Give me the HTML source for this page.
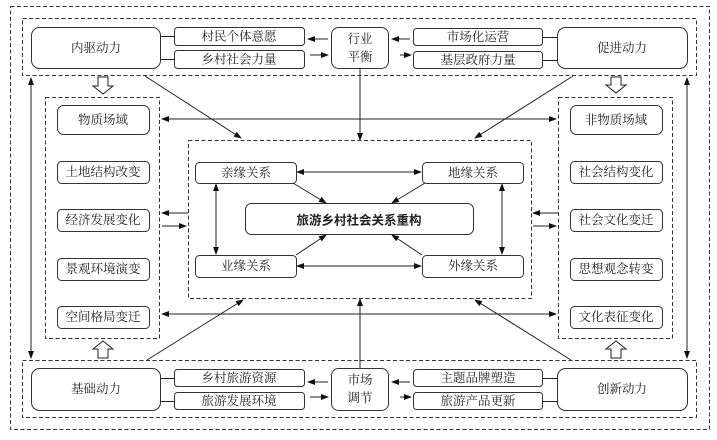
<!DOCTYPE html>
<html><head><meta charset="utf-8"><style>
body{margin:0;background:#fff}
svg text{font-family:"Liberation Serif","Noto Serif CJK SC","Noto Sans CJK SC",serif;font-size:12.5px;fill:#222;text-anchor:middle;dominant-baseline:central}
</style></head><body>
<svg width="717" height="435" viewBox="0 0 717 435" xmlns="http://www.w3.org/2000/svg">
<defs><marker id="a" markerWidth="8" markerHeight="8" refX="7" refY="4" orient="auto-start-reverse" markerUnits="userSpaceOnUse"><path d="M0,1 L8,4 L0,7 Z" fill="#111"/></marker></defs>
<g fill="none" stroke="#333" stroke-width="1" stroke-dasharray="4,2.5">
<rect x="10.5" y="6.5" width="699" height="423"/>
<rect x="22.5" y="18.5" width="674" height="57"/>
<rect x="22.5" y="360.5" width="674" height="57"/>
<rect x="45.5" y="97.5" width="114" height="241"/>
<rect x="558.5" y="97.5" width="114" height="241"/>
<rect x="188.5" y="140.5" width="343" height="158"/>
</g>
<g fill="#fff" stroke="#333" stroke-width="1">
<rect x="31.5" y="27.5" width="129" height="41" rx="8"/>
<rect x="174.5" y="27.5" width="130" height="18" rx="3"/>
<rect x="174.5" y="50.5" width="130" height="18" rx="3"/>
<rect x="331.5" y="27.5" width="57" height="41" rx="7"/>
<rect x="413.5" y="28.5" width="129" height="17" rx="3"/>
<rect x="413.5" y="51.5" width="129" height="17" rx="3"/>
<rect x="557.5" y="27.5" width="130" height="41" rx="8"/>
<rect x="31.5" y="368.5" width="129" height="42" rx="8"/>
<rect x="174.5" y="369.5" width="130" height="17" rx="3"/>
<rect x="174.5" y="392.5" width="130" height="17" rx="3"/>
<rect x="331.5" y="368.5" width="57" height="42" rx="7"/>
<rect x="413.5" y="369.5" width="129" height="17" rx="3"/>
<rect x="413.5" y="392.5" width="129" height="17" rx="3"/>
<rect x="557.5" y="368.5" width="130" height="42" rx="8"/>
<rect x="57.5" y="105.5" width="92" height="29" rx="6"/>
<rect x="57.5" y="161.5" width="92" height="22" rx="4"/>
<rect x="57.5" y="209.5" width="92" height="22" rx="4"/>
<rect x="57.5" y="258.5" width="92" height="22" rx="4"/>
<rect x="57.5" y="306.5" width="92" height="22" rx="4"/>
<rect x="570.5" y="105.5" width="92" height="29" rx="6"/>
<rect x="570.5" y="161.5" width="92" height="22" rx="4"/>
<rect x="570.5" y="209.5" width="92" height="22" rx="4"/>
<rect x="570.5" y="258.5" width="92" height="22" rx="4"/>
<rect x="570.5" y="306.5" width="92" height="22" rx="4"/>
<rect x="195.5" y="162.5" width="101" height="21" rx="4"/>
<rect x="422.5" y="162.5" width="101" height="21" rx="4"/>
<rect x="195.5" y="255.5" width="101" height="22" rx="4"/>
<rect x="422.5" y="255.5" width="101" height="22" rx="4"/>
<rect x="245.5" y="203.5" width="228" height="31" rx="6"/>
</g>
<g stroke="#222" stroke-width="1" fill="none">
<path d="M160.5 36.5H174.5M160.5 59.5H174.5M542.5 37.5H557.5M542.5 60.5H557.5M160.5 378.5H174.5M160.5 401.5H174.5M542.5 378.5H557.5M542.5 401.5H557.5"/>
<g marker-end="url(#a)">
<line x1="328" y1="39" x2="308" y2="39"/><line x1="310" y1="55" x2="328" y2="55"/>
<line x1="410" y1="39" x2="392" y2="39"/><line x1="400" y1="55" x2="411" y2="55"/>
<line x1="328" y1="382" x2="308" y2="382"/><line x1="310" y1="397" x2="328" y2="397"/>
<line x1="410" y1="382" x2="392" y2="382"/><line x1="400" y1="397" x2="411" y2="397"/>
<line x1="360" y1="68" x2="360" y2="140"/><line x1="360" y1="368" x2="360" y2="299"/>
<line x1="145" y1="76" x2="241" y2="138"/><line x1="573" y1="76" x2="475" y2="138"/>
<line x1="147" y1="360" x2="243" y2="300"/><line x1="571" y1="360" x2="475" y2="300"/>
<line x1="188" y1="213" x2="162" y2="213"/><line x1="162" y1="226" x2="186" y2="226"/>
<line x1="558" y1="213" x2="533" y2="213"/><line x1="533" y1="226" x2="556" y2="226"/>
<line x1="293" y1="183" x2="326" y2="203"/><line x1="425" y1="183" x2="392" y2="203"/>
<line x1="296" y1="255" x2="326" y2="235"/><line x1="422" y1="255" x2="392" y2="235"/>
</g>
<g marker-start="url(#a)" marker-end="url(#a)">
<line x1="162" y1="119" x2="556" y2="119"/><line x1="162" y1="314" x2="556" y2="314"/>
<line x1="31" y1="78" x2="31" y2="358"/><line x1="687" y1="78" x2="687" y2="358"/>
<line x1="297" y1="172" x2="421" y2="172"/><line x1="297" y1="266" x2="421" y2="266"/>
<line x1="216" y1="184" x2="216" y2="254"/><line x1="502" y1="184" x2="502" y2="254"/>
</g>
<path fill="#fff" d="M98 77H108V86H113L103 94L93 86H98Z"/>
<path fill="#fff" d="M611 77H621V85H626L616 93L606 85H611Z"/>
<path fill="#fff" d="M98 358H108V349H113L103 341L93 349H98Z"/>
<path fill="#fff" d="M611 358H621V349H626L616 341L606 349H611Z"/>
</g>
<text x="96" y="48">内驱动力</text><text x="239" y="36.5">村民个体意愿</text><text x="239" y="59.5">乡村社会力量</text>
<text x="360" y="39">行业</text><text x="360" y="57">平衡</text>
<text x="478" y="37">市场化运营</text><text x="478" y="60">基层政府力量</text><text x="622" y="48">促进动力</text>
<text x="96" y="389">基础动力</text><text x="239" y="378">乡村旅游资源</text><text x="239" y="401">旅游发展环境</text>
<text x="360" y="380">市场</text><text x="360" y="398">调节</text>
<text x="478" y="378">主题品牌塑造</text><text x="478" y="401">旅游产品更新</text><text x="622" y="389">创新动力</text>
<text x="103" y="120">物质场域</text><text x="103" y="172">土地结构改变</text><text x="103" y="220">经济发展变化</text><text x="103" y="269">景观环境演变</text><text x="103" y="317">空间格局变迁</text>
<text x="616" y="120">非物质场域</text><text x="616" y="172">社会结构变化</text><text x="616" y="220">社会文化变迁</text><text x="616" y="269">思想观念转变</text><text x="616" y="317">文化表征变化</text>
<text x="246" y="173">亲缘关系</text><text x="473" y="173">地缘关系</text><text x="246" y="266">业缘关系</text><text x="473" y="266">外缘关系</text>
<text x="359" y="219" style="font-weight:bold;font-family:'Noto Sans CJK SC',sans-serif">旅游乡村社会关系重构</text>
</svg>
</body></html>
